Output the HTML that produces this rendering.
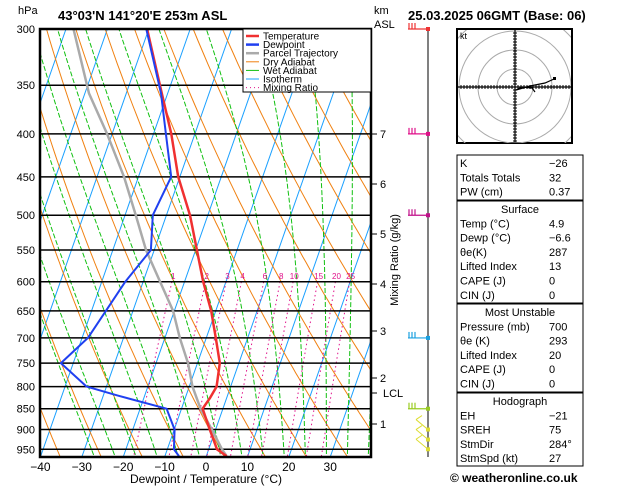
<!DOCTYPE html>
<html><head><meta charset="utf-8">
<style>
html,body{margin:0;padding:0;background:#fff;}
svg{display:block;font-family:"Liberation Sans",sans-serif;}
</style></head>
<body>
<svg id="c" width="629" height="486" viewBox="0 0 629 486" xmlns="http://www.w3.org/2000/svg">
<defs><clipPath id="plotclip"><rect x="40" y="29" width="331" height="428"/></clipPath>
<clipPath id="hodoclip"><rect x="458" y="30" width="113" height="113"/></clipPath></defs>
<g id="bg" clip-path="url(#plotclip)"></g>
<g id="iso"></g>
<g id="prof" clip-path="url(#plotclip)"></g>
<rect x="40" y="29" width="331" height="428" fill="none" stroke="#000" stroke-width="2.5"/>
<text x="18" y="14" font-size="11">hPa</text>
<text x="58" y="20" font-size="13" font-weight="bold">43°03'N  141°20'E  253m  ASL</text>
<text x="374" y="14" font-size="11">km</text>
<text x="374" y="28" font-size="11">ASL</text>
<text x="408" y="20" font-size="13" font-weight="bold">25.03.2025  06GMT  (Base: 06)</text>
<g id="legend">
<rect x="243" y="29" width="128" height="63" fill="#fff" stroke="#000" stroke-width="1"/>
</g>
<g id="axes"></g>
<text x="206" y="483" font-size="12" text-anchor="middle">Dewpoint  /  Temperature  (°C)</text>
<text transform="translate(398,260) rotate(-90)" font-size="11" text-anchor="middle">Mixing Ratio (g/kg)</text>
<g id="wind"></g>
<g id="hodo"></g>
<g id="tables"></g>
<text x="450" y="482" font-size="12" font-weight="bold">© weatheronline.co.uk</text>
</svg>
<script>
// ---- data ----
const pressureLevels=[300,350,400,450,500,550,600,650,700,750,800,850,900,950];
const tempP=[300,358,400,450,500,550,600,650,700,750,800,825,850,900,950,968];
const tempC=[-50.4,-41.4,-35.7,-30.4,-24.3,-19.7,-15.5,-11.1,-7.7,-4.6,-3.4,-4.0,-4.9,-1.4,2.0,4.9];
const dewP=[300,358,400,450,500,550,600,700,750,800,820,850,900,950,968];
const dewC=[-50.6,-41.6,-37,-32.1,-33.3,-30.8,-34.3,-38.6,-43,-34.8,-26.5,-13.6,-9.9,-8.4,-6.6];
const parcelP=[300,358,400,450,500,550,600,650,700,750,800,850,900,950,968];
const parcelC=[-68.2,-59,-51.2,-43.5,-37.4,-32,-25.9,-20.3,-16.4,-12.3,-9.2,-5.4,-0.9,3.2,4.9];
const xTicks=[-40,-30,-20,-10,0,10,20,30];
const mixRatios=[1,2,3,4,6,8,10,15,20,25];
const kmHeights=[1,2,3,4,5,6,7];
const kmY=[424,378,331,284,234,184,134];
const windP=[300,400,500,700,850,900,925,950];
const windColors=['#e33','#e0108a','#c0108a','#1aa0e0','#9c2','#dd3','#dd3','#dd3'];
// ---- scales ----
const svg=document.getElementById('c');const NS='http://www.w3.org/2000/svg';
function Y(p){return 29+364.6*Math.log(p/300);}
function X(T,p){return 206+4.14*T+0.35*(457-Y(p));}
function mk(tag,attrs,parent){const e=document.createElementNS(NS,tag);for(const k in attrs)e.setAttribute(k,attrs[k]);parent.appendChild(e);return e;}
function pathOf(pts){return pts.map((q,i)=>(i?'L':'M')+q[0].toFixed(1)+','+q[1].toFixed(1)).join('');}
const bg=document.getElementById('bg');
// isotherms
for(let T=-120;T<=40;T+=10){const l=mk('line',{x1:X(T,970),y1:Y(970),x2:X(T,300),y2:Y(300),stroke:'#1aa0ff','stroke-width':1},bg);

}
// dry adiabats
for(let th=230;th<=480;th+=10){const pts=[];for(let p=300;p<=980;p+=10){pts.push([X(th*Math.pow(p/1000,0.286)-273.15,p),Y(p)]);}
const e=mk('path',{d:pathOf(pts),fill:'none',stroke:'#f08010','stroke-width':1},bg);

}
// wet adiabats
function es(Tc){return 6.112*Math.exp(17.67*Tc/(Tc+243.5));}
function dTdp(T,p){const rs=0.622*es(T-273.15)/(p-es(T-273.15));const Rd=287,Cp=1004,L=2.5e6;
return (Rd*T+L*rs)/(p*(Cp+L*L*rs*0.622/(Rd*T*T)));}
for(let tw=-25;tw<=40;tw+=5){let T=tw+273.15,p=1000;const pts=[[X(tw,p),Y(p)]];
while(p>300){const dp=-5;T+=dTdp(T,p)*dp;p+=dp;pts.push([X(T-273.15,p),Y(p)]);}
const e=mk('path',{d:pathOf(pts),fill:'none',stroke:'#10c010','stroke-width':1,'stroke-dasharray':'5,2'},bg);

}
// mixing ratio
function tdFromW(w,p){const e=w*p/(622+w);const l=Math.log(e/6.112);return 243.5*l/(17.67-l);}
mixRatios.forEach(w=>{const pts=[];for(let p=600;p<=980;p+=10)pts.push([X(tdFromW(w,p),p),Y(p)]);
const e=mk('path',{d:pathOf(pts),fill:'none',stroke:'#e0108a','stroke-width':1,'stroke-dasharray':'1.5,3'},bg);


const t=mk('text',{x:X(tdFromW(w,590),590),y:279,'font-size':8,fill:'#e0108a','text-anchor':'middle'},bg);t.textContent=w;

});
// isobars + labels
const iso=document.getElementById('iso');
pressureLevels.forEach(p=>{const l=mk('line',{x1:40,x2:371,y1:Y(p),y2:Y(p),stroke:'#000','stroke-width':1.5},iso);


const t=mk('text',{x:35,y:Y(p)+4,'font-size':11,'text-anchor':'end'},iso);t.textContent=p;

});
// profiles
const prof=document.getElementById('prof');
function line(P,Tv,col,w,name){const pts=P.map((p,i)=>[X(Tv[i],p),Y(p)]);const e=mk('path',{d:pathOf(pts),fill:'none',stroke:col,'stroke-width':w,'stroke-linejoin':'round'},prof);

}
line(parcelP,parcelC,'#aaa',2.5,'parcel-trajectory');
line(tempP,tempC,'#f03030',2.5,'temperature-line');
line(dewP,dewC,'#2040f0',2,'dewpoint-line');
// legend
const lg=document.getElementById('legend');
[['Temperature','#f03030',2.5,''],['Dewpoint','#2040f0',2.5,''],['Parcel Trajectory','#aaa',2.5,''],['Dry Adiabat','#f08010',1,''],['Wet Adiabat','#10c010',1,''],['Isotherm','#1aa0ff',1,''],['Mixing Ratio','#e0108a',1,'1,3']].forEach((r,i)=>{
const y=36+i*8.6;mk('line',{x1:246,x2:259,y1:y,y2:y,stroke:r[1],'stroke-width':r[2],'stroke-dasharray':r[3]},lg);
const t=mk('text',{x:263,y:y+3.5,'font-size':10},lg);t.textContent=r[0];

});
// axes ticks
const ax=document.getElementById('axes');
xTicks.forEach(T=>{const t=mk('text',{x:206+4.14*T,y:471,'font-size':12,'text-anchor':'middle'},ax);t.textContent=(T<0?'\u2212':'')+Math.abs(T);

});
kmHeights.forEach((h,i)=>{mk('line',{x1:371,x2:377,y1:kmY[i],y2:kmY[i],stroke:'#000'},ax);
const t=mk('text',{x:380,y:kmY[i]+4,'font-size':11},ax);t.textContent=h;

});
mk('line',{x1:371,x2:377,y1:393,y2:393,stroke:'#000'},ax);
const lcl=mk('text',{x:383,y:397,'font-size':11},ax);lcl.textContent='LCL';


// wind barbs
const wd=document.getElementById('wind');
mk('line',{x1:428,x2:428,y1:29,y2:457,stroke:'#000','stroke-width':1},wd);
windP.forEach((p,i)=>{const y=Math.min(Y(p),457),c=windColors[i];
const g=mk('g',{},wd);


if(i<5){mk('line',{x1:408,x2:428,y1:y,y2:y,stroke:c,'stroke-width':1.2},g);
for(let k=0;k<3;k++)mk('line',{x1:409+k*3,x2:409+k*3,y1:y,y2:y-6,stroke:c,'stroke-width':1.2},g);}
else{mk('line',{x1:416,x2:428,y1:y-10,y2:y,stroke:c,'stroke-width':1},g);mk('line',{x1:416,x2:422,y1:y-10,y2:y-14,stroke:c,'stroke-width':1},g);}
mk('rect',{x:426,y:y-2,width:4,height:4,fill:c},g);});
// hodograph
const hd=document.getElementById('hodo');
mk('rect',{x:457,y:29,width:115,height:114,fill:'none',stroke:'#000','stroke-width':2},hd);
const hc=mk('g',{'clip-path':'url(#hodoclip)'},hd);
[18,37,56,75].forEach(r=>mk('circle',{cx:515,cy:87,r:r,fill:'none',stroke:'#aaa','stroke-width':1},hc));
mk('line',{x1:458,x2:571,y1:87,y2:87,stroke:'#000','stroke-width':1.2},hd);
mk('line',{x1:515,x2:515,y1:30,y2:142,stroke:'#000','stroke-width':1.2},hd);
for(let k=-18;k<=18;k++){if(!k)continue;mk('line',{x1:515+k*3,x2:515+k*3,y1:85,y2:89,stroke:'#000'},hd);mk('line',{x1:513,x2:517,y1:87+k*3,y2:87+k*3,stroke:'#000'},hd);}
mk('path',{d:'M516,90 L522,87 L532,88 L535,92',fill:'none',stroke:'#000','stroke-width':1.2},hd);
mk('path',{d:'M516,90 L530,86 L545,83 L554,79',fill:'none',stroke:'#000','stroke-width':1.2},hd);
mk('rect',{x:553,y:77,width:3,height:3,fill:'#000'},hd);
const kt=mk('text',{x:460,y:39,'font-size':9},hd);kt.textContent='kt';
// tables
const tb=document.getElementById('tables');
const boxes=[[155,200,null,[['K','\u221226'],['Totals Totals','32'],['PW (cm)','0.37']]],
[201,303,'Surface',[['Temp (°C)','4.9'],['Dewp (°C)','\u22126.6'],['θe(K)','287'],['Lifted Index','13'],['CAPE (J)','0'],['CIN (J)','0']]],
[304,392,'Most Unstable',[['Pressure (mb)','700'],['θe (K)','293'],['Lifted Index','20'],['CAPE (J)','0'],['CIN (J)','0']]],
[393,466,'Hodograph',[['EH','\u221221'],['SREH','75'],['StmDir','284°'],['StmSpd (kt)','27']]]];
boxes.forEach(b=>{mk('rect',{x:457,y:b[0],width:126,height:b[1]-b[0],fill:'none',stroke:'#000','stroke-width':1},tb);
let y=b[0]+12;
if(b[2]){const t=mk('text',{x:520,y:y,'font-size':11,'text-anchor':'middle'},tb);t.textContent=b[2];y+=14.3;

}
b[3].forEach(r=>{const a=mk('text',{x:460,y:y,'font-size':11},tb);a.textContent=r[0];


const v=mk('text',{x:549,y:y,'font-size':11},tb);v.textContent=r[1];

y+=14.3;});});
</script>
</body></html>
